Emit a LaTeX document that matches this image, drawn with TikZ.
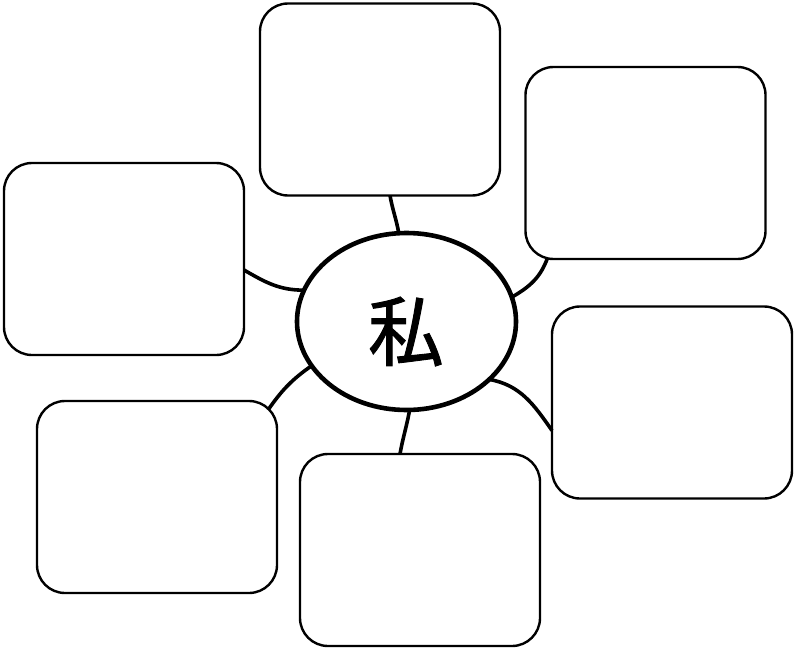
\documentclass[tikz,border=0pt]{standalone}
\usepackage{fontspec}
\newfontfamily\cjk[FakeBold=1.2]{Noto Sans CJK JP}
\usetikzlibrary{shapes.geometric}
\begin{document}
\begin{tikzpicture}[x=1pt,y=-1pt,
  card/.style={draw=black,line width=2.4pt,rounded corners=28pt,fill=white,
    minimum width=240pt,minimum height=192pt,inner sep=0pt,outer sep=0pt},
  hub/.style={draw=black,line width=4.6pt,ellipse,fill=white,
    minimum width=219pt,minimum height=177pt,inner sep=0pt,outer sep=0pt},
  link/.style={draw=black,line width=3.6pt}]
\useasboundingbox (0,0) rectangle (795,650);
\fill[white] (0,0) rectangle (795,650);
\node[card] (b1) at (380,99.5) {};
\node[card] (b2) at (645.5,163) {};
\node[card] (b3) at (124,259) {};
\node[card] (b4) at (672,402.5) {};
\node[card] (b5) at (157,497) {};
\node[card] (b6) at (420,550) {};
\node[hub] (me) at (406.5,321.5) {};
\node[font=\cjk\fontsize{76}{76}\selectfont,inner sep=0pt] (t) at (406,331.5) {私};
% connectors
\draw[link] ([xshift=10pt]b1.south) to[out=-80,in=100] (me.95);
\draw[link] ([xshift=22pt,yshift=1pt]b2.south west) to[out=-110,in=30] (me.13);
\draw[link] ([yshift=-11pt]b3.east) to[out=-30,in=180] (me.163);
\draw[link] (me.205) to[out=215,in=55] ([xshift=-9pt,yshift=-9pt]b5.north east);
\draw[link] (me.-35) to[out=-10,in=125] ([yshift=-28pt]b4.west);
\draw[link] (me.-88) to[out=-100,in=80] ([xshift=-20pt]b6.north);
\end{tikzpicture}
\end{document}
